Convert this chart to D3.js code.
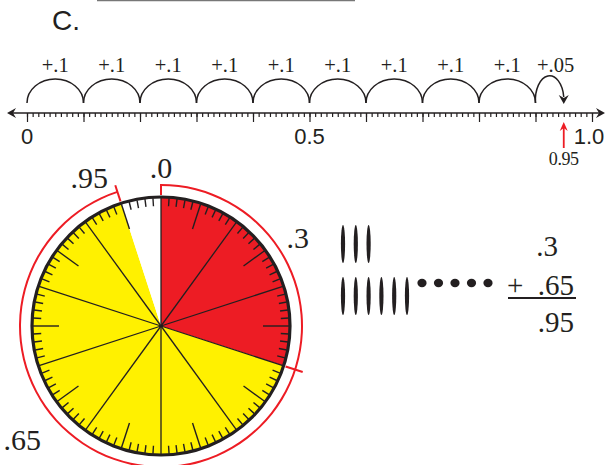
<!DOCTYPE html>
<html>
<head>
<meta charset="utf-8">
<script src="https://cdn.jsdelivr.net/npm/d3@7"></script>
<style>
  body { margin: 0; background: #fff; }
</style>
</head>
<body>
<div id="chart"></div>
<script>
var svgWidth = 606;
var svgHeight = 465;

// number line data
var lineLabelValues = [0, 0.5, 1.0];
var lineLabels = ["0", "0.5", "1.0"];
var jumpStarts = [0, 0.1, 0.2, 0.3, 0.4, 0.5, 0.6, 0.7, 0.8, 0.9];
var jumpSizes = [0.1, 0.1, 0.1, 0.1, 0.1, 0.1, 0.1, 0.1, 0.1, 0.05];
var jumpLabels = ["+.1", "+.1", "+.1", "+.1", "+.1", "+.1", "+.1", "+.1", "+.1", "+.05"];
var target = 0.95;
var targetLabel = "0.95";

// dial data
var sectorValues = [0.3, 0.65, 0.05];
var sectorColors = ["#ed1c24", "#fff100", "#ffffff"];
var sectorLabels = [".3", ".65", ""];
var markValues = [0, 0.95];
var markLabels = [".0", ".95"];

// tally + sum
var tallyRows = [3, 6];
var dotCount = 5;
var addends = [".3", ".65"];
var sumLabel = ".95";

var ink = "#231f20";
var red = "#ed1c24";
var serif = "'Liberation Serif', 'Times New Roman', serif";
var sans = "'Liberation Sans', Arial, Helvetica, sans-serif";

var svg = d3.select("#chart")
  .append("svg")
  .attr("width", svgWidth)
  .attr("height", svgHeight);

function label(xp, yp, txt, size, family, anchor) {
  return svg.append("text")
    .attr("x", xp).attr("y", yp)
    .attr("fill", ink)
    .style("font-family", family)
    .style("font-size", size + "px")
    .attr("text-anchor", anchor || "start")
    .text(txt);
}

// heading
svg.append("line")
  .attr("x1", 97).attr("x2", 355)
  .attr("y1", 0.5).attr("y2", 0.5)
  .attr("stroke", "#777").attr("stroke-width", 1.5);
label(52, 30, "C.", 28, sans);

// ---------- number line ----------
var axisY = 113;
var x = d3.scaleLinear().domain([0, 1]).range([27, 592]);

svg.append("line")
  .attr("x1", 10).attr("x2", 602)
  .attr("y1", axisY).attr("y2", axisY)
  .attr("stroke", ink).attr("stroke-width", 1.5);
// arrow heads
svg.append("path")
  .attr("d", `M7,${axisY} L16,${axisY - 5} L13,${axisY} L16,${axisY + 5}Z`)
  .attr("fill", ink);
svg.append("path")
  .attr("d", `M605,${axisY} L596,${axisY - 5} L599,${axisY} L596,${axisY + 5}Z`)
  .attr("fill", ink);

var minorAxis = d3.axisBottom(x)
  .tickValues(d3.range(101).map(i => i / 100))
  .tickSize(4)
  .tickFormat("");
var majorAxis = d3.axisBottom(x)
  .tickValues(d3.range(11).map(i => i / 10))
  .tickSize(9)
  .tickFormat("");

[minorAxis, majorAxis].forEach(ax => {
  var g = svg.append("g")
    .attr("transform", `translate(0, ${axisY})`)
    .call(ax);
  g.select(".domain").remove();
  g.selectAll(".tick line").attr("stroke", ink).attr("stroke-width", 1.2);
});

lineLabelValues.forEach((d, i) => {
  var shift = d === 1 ? -3 : 0;  // keep the last label inside the frame
  label(x(d) + shift, 144, lineLabels[i], 22, sans, "middle");
});

// jumps
var arcBase = 103;
var arcTop = 79;
svg.selectAll(".jump")
  .data(jumpStarts)
  .enter()
  .append("path")
  .attr("d", (d, i) => {
    var x0 = x(d), x1 = x(d + jumpSizes[i]);
    var rx = (x1 - x0) / 2;
    var endY = i === jumpStarts.length - 1 ? arcBase - 6 : arcBase;
    return `M${x0},${arcBase} A${rx},${arcBase - arcTop} 0 0 1 ${x1},${endY}`;
  })
  .attr("fill", "none")
  .attr("stroke", ink)
  .attr("stroke-width", 1.5);

var lastEnd = x(jumpStarts[jumpStarts.length - 1] + jumpSizes[jumpSizes.length - 1]);
svg.append("path")
  .attr("d", `M${lastEnd},${arcBase + 1} L${lastEnd - 5},${arcBase - 8} L${lastEnd},${arcBase - 5} L${lastEnd + 5},${arcBase - 8}Z`)
  .attr("fill", ink);

jumpStarts.forEach((d, i) => {
  var last = i === jumpStarts.length - 1;
  label(x(d + jumpSizes[i] / 2) + (last ? 6 : 0), 72, jumpLabels[i], 20.5, serif, "middle");
});

// target arrow
svg.append("line")
  .attr("x1", x(target)).attr("x2", x(target))
  .attr("y1", 148).attr("y2", 128)
  .attr("stroke", red).attr("stroke-width", 1.8);
svg.append("path")
  .attr("d", `M${x(target)},${122} L${x(target) - 4},${131} L${x(target)},${128} L${x(target) + 4},${131}Z`)
  .attr("fill", red);
label(x(target), 165, targetLabel, 18, serif, "middle").attr("letter-spacing", -0.4);

// ---------- dial ----------
var cx = 161, cy = 326, R = 129, redR = 141;
var angle = d3.scaleLinear().domain([0, 1]).range([0, 2 * Math.PI]);
var polar = (v, r) => [cx + r * Math.sin(angle(v)), cy - r * Math.cos(angle(v))];

var dial = svg.append("g").attr("transform", `translate(${cx}, ${cy})`);

var pie = d3.pie().sort(null).value(d => d);
var slices = pie(sectorValues);
var sectorArc = d3.arc().innerRadius(0).outerRadius(R);

dial.selectAll(".sector")
  .data(slices)
  .enter()
  .append("path")
  .attr("d", sectorArc)
  .attr("fill", (d, i) => sectorColors[i]);

// radial lines every tenth
dial.selectAll(".spoke")
  .data(d3.range(10).map(i => i / 10))
  .enter()
  .append("line")
  .attr("x1", 0).attr("y1", 0)
  .attr("x2", d => R * Math.sin(angle(d)))
  .attr("y2", d => -R * Math.cos(angle(d)))
  .attr("stroke", ink)
  .attr("stroke-width", 1.3);

// rim ticks every hundredth
dial.selectAll(".rimTick")
  .data(d3.range(100).filter(i => i % 10 !== 0))
  .enter()
  .append("line")
  .attr("x1", d => (R - 1) * Math.sin(angle(d / 100)))
  .attr("y1", d => -(R - 1) * Math.cos(angle(d / 100)))
  .attr("x2", d => (R - (d % 5 === 0 ? 27 : 9)) * Math.sin(angle(d / 100)))
  .attr("y2", d => -(R - (d % 5 === 0 ? 27 : 9)) * Math.cos(angle(d / 100)))
  .attr("stroke", ink)
  .attr("stroke-width", 1.4);

dial.append("circle")
  .attr("r", R)
  .attr("fill", "none")
  .attr("stroke", ink)
  .attr("stroke-width", 3.2);

// red arc from 0 to the target
dial.append("path")
  .attr("d", d3.arc().innerRadius(redR - 1).outerRadius(redR + 1)
    .startAngle(angle(0)).endAngle(angle(target))())
  .attr("fill", red);

var cutValues = [0, sectorValues[0], target];
var cutOuter = [redR + 1, 149, 148];
dial.selectAll(".cut")
  .data(cutValues)
  .enter()
  .append("line")
  .attr("x1", d => (R + 2) * Math.sin(angle(d)))
  .attr("y1", d => -(R + 2) * Math.cos(angle(d)))
  .attr("x2", (d, i) => cutOuter[i] * Math.sin(angle(d)))
  .attr("y2", (d, i) => -cutOuter[i] * Math.cos(angle(d)))
  .attr("stroke", red)
  .attr("stroke-width", 2);

// labels
label(polar(markValues[0], 150)[0], polar(markValues[0], 148)[1], markLabels[0], 30, serif, "middle");
label(polar(markValues[1], 155)[0] - 5, polar(markValues[1], 155)[1] + 9, markLabels[1], 30, serif, "end");

var labelR = [162, 180];
slices.forEach((d, i) => {
  if (!sectorLabels[i]) return;
  var mid = (d.startAngle + d.endAngle) / 2 / (2 * Math.PI) + (i === 0 ? 0.01 : 0.015);
  var p = polar(mid, labelR[i]);
  label(p[0], p[1] + 9, sectorLabels[i], 30, serif, "middle");
});

// ---------- tally ----------
var tallyX = d3.scaleLinear().domain([0, 5]).range([343, 407]);
var rowY = [244, 296];
tallyRows.forEach((n, r) => {
  svg.selectAll(".tally" + r)
    .data(d3.range(n))
    .enter()
    .append("ellipse")
    .attr("cx", d => tallyX(d))
    .attr("cy", rowY[r])
    .attr("rx", 2.1)
    .attr("ry", 19)
    .attr("fill", ink);
});
var dotX = d3.scaleLinear().domain([0, 4]).range([422, 488]);
svg.selectAll(".dot")
  .data(d3.range(dotCount))
  .enter()
  .append("ellipse")
  .attr("cx", d => dotX(d))
  .attr("cy", 283)
  .attr("rx", 4.6)
  .attr("ry", 4.2)
  .attr("fill", ink);

// ---------- sum ----------
var sumRight = 574;
label(sumRight - 16, 256, addends[0], 29, serif, "end");
label(sumRight, 295, addends[1], 29, serif, "end");
label(507, 295, "+", 29, serif);
svg.append("line")
  .attr("x1", 508).attr("x2", 576)
  .attr("y1", 298).attr("y2", 298)
  .attr("stroke", ink).attr("stroke-width", 1.8);
label(sumRight, 332, sumLabel, 29, serif, "end");
</script>
</body>
</html>
